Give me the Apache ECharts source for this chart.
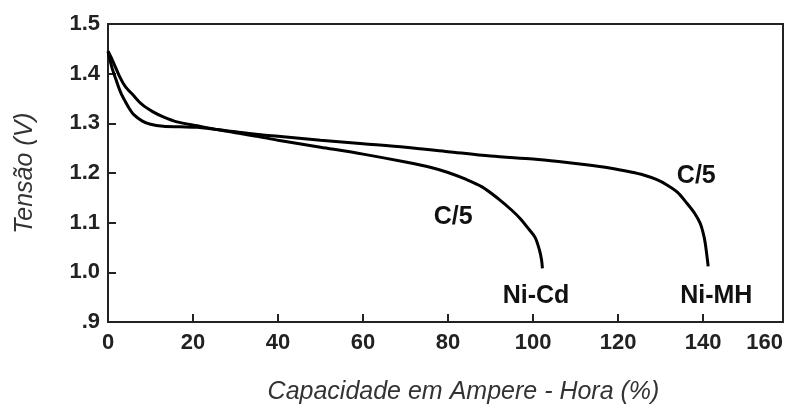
<!DOCTYPE html>
<html>
<head>
<meta charset="utf-8">
<script src="https://cdn.jsdelivr.net/npm/echarts@6/dist/echarts.min.js"></script>
<style>
  html, body { margin: 0; padding: 0; background: #fff; }
  #chart { width: 789px; height: 412px; }
</style>
</head>
<body>
<div id="chart"></div>
<script>
// descarga Ni-Cd / Ni-MH a C/5
const niCdX = [0, 1, 2, 3, 4, 5, 6, 8, 10, 13, 17, 21, 26, 30, 35, 40, 50, 60, 70, 76, 80, 84, 88, 92, 95, 97, 99, 100.5, 101.5, 102, 102.2];
const niCdV = [1.445, 1.41, 1.385, 1.362, 1.345, 1.33, 1.318, 1.305, 1.298, 1.294, 1.293, 1.292, 1.287, 1.281, 1.274, 1.266, 1.252, 1.238, 1.222, 1.211, 1.201, 1.188, 1.172, 1.147, 1.125, 1.108, 1.087, 1.07, 1.045, 1.025, 1.008];

const niMhX = [0, 1, 2.8, 4, 5.9, 8, 10.6, 13, 16.2, 21, 26, 30, 36, 40, 50, 60, 70, 80, 90, 100, 106, 112, 118, 123, 126, 129, 131.5, 134, 136.2, 138, 139.3, 140, 140.5, 141.2];
const niMhV = [1.445, 1.428, 1.393, 1.375, 1.357, 1.338, 1.323, 1.313, 1.303, 1.295, 1.287, 1.283, 1.277, 1.274, 1.266, 1.259, 1.252, 1.243, 1.234, 1.228, 1.223, 1.217, 1.21, 1.202, 1.196, 1.187, 1.176, 1.161, 1.139, 1.119, 1.099, 1.08, 1.059, 1.012];

const xTickLabels = ['0', '20', '40', '60', '80', '100', '120', '140', '160'];
const yTickLabels = ['.9', '1.0', '1.1', '1.2', '1.3', '1.4', '1.5'];

// rótulos no gráfico: [texto, capacidade, tensão]
const cdLabels = [['C/5', 81.2, 1.111], ['Ni-Cd', 100.7, 0.953]];
const mhLabels = [['C/5', 138.4, 1.194], ['Ni-MH', 143.1, 0.953]];

const chart = echarts.init(document.getElementById('chart'), null, { renderer: 'canvas' });

const boldFont = '"Liberation Sans", Arial, sans-serif';

const tickFont = {
    fontFamily: boldFont,
    fontWeight: 'bold',
    fontSize: 22,
    color: '#222'
};

function pairs(xs, ys) {
    return xs.map((x, i) => [x, ys[i]]);
}

function marks(list) {
    return {
        symbol: 'circle',
        symbolSize: 1,
        itemStyle: { color: 'rgba(0,0,0,0)' },
        label: {
            show: true,
            position: 'inside',
            formatter: p => p.name,
            fontFamily: boldFont,
            fontWeight: 'bold',
            fontSize: 25,
            color: '#111'
        },
        data: list.map(l => ({ name: l[0], coord: [l[1], l[2]] }))
    };
}

const option = {
    animation: false,
    backgroundColor: '#fff',
    grid: {
        left: 108, right: 6, top: 24, bottom: 90,
        show: true,
        borderColor: '#222',
        borderWidth: 2
    },
    xAxis: {
        type: 'value',
        min: 0,
        max: 158.8,
        interval: 20,
        name: 'Capacidade em Ampere - Hora (%)',
        nameLocation: 'middle',
        nameGap: 58,
        nameTextStyle: {
            fontFamily: '"Liberation Sans", Arial, sans-serif',
            fontStyle: 'italic',
            fontSize: 25,
            color: '#333',
            padding: [0, 0, 0, 36]
        },
        splitLine: { show: false },
        axisLine: { lineStyle: { color: '#222', width: 2 } },
        axisTick: { inside: true, length: 8, lineStyle: { color: '#222', width: 2 } },
        axisLabel: Object.assign({
            margin: 10,
            alignMaxLabel: 'right',
            formatter: v => xTickLabels[Math.min(Math.round(v / 20), xTickLabels.length - 1)]
        }, tickFont)
    },
    yAxis: {
        type: 'value',
        min: 0.9,
        max: 1.5,
        interval: 0.1,
        name: 'Tensão (V)',
        nameLocation: 'middle',
        nameGap: 70,
        nameTextStyle: {
            fontFamily: '"Liberation Sans", Arial, sans-serif',
            fontStyle: 'italic',
            fontSize: 25,
            color: '#333'
        },
        splitLine: { show: false },
        axisLine: { show: true, lineStyle: { color: '#222', width: 2 } },
        axisTick: { show: true, inside: true, length: 8, lineStyle: { color: '#222', width: 2 } },
        axisLabel: Object.assign({
            margin: 8,
            padding: [0, 0, 6, 0],
            formatter: v => yTickLabels[Math.round((v - 0.9) * 10)]
        }, tickFont)
    },
    series: [
        {
            name: 'Ni-Cd',
            type: 'line',
            data: pairs(niCdX, niCdV),
            smooth: 0.3,
            showSymbol: false,
            lineStyle: { color: '#000', width: 3 },
            markPoint: marks(cdLabels)
        },
        {
            name: 'Ni-MH',
            type: 'line',
            data: pairs(niMhX, niMhV),
            smooth: 0.3,
            showSymbol: false,
            lineStyle: { color: '#000', width: 3 },
            markPoint: marks(mhLabels)
        }
    ]
};
chart.setOption(option);
</script>
</body>
</html>
